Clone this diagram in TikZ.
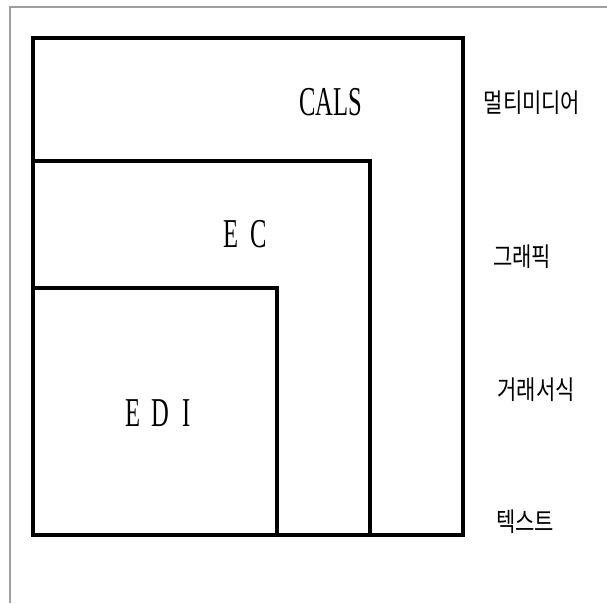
\documentclass[tikz,border=0pt]{standalone}
\usepackage{fontspec}
\setmainfont{Liberation Serif}
\newfontfamily\krfont{Noto Sans CJK KR}
\begin{document}
\begin{tikzpicture}[x=1pt,y=-1pt,
  boxline/.style={line width=3.2pt, line join=miter},
  frameline/.style={draw=gray!75, line width=1.3pt},
  latinlabel/.style={inner sep=0pt, font=\fontsize{41}{44}\selectfont},
  korlabel/.style={inner sep=0pt, font=\krfont\fontsize{21}{24}\selectfont}]
\useasboundingbox (0,0) rectangle (607,603);
% outer frame (only top and left visible)
\draw[frameline] (10,603) -- (10,7) -- (607,7);
% nested rectangles
\draw[boxline] (33,38) rectangle (463,535);
\draw[boxline] (33,161) rectangle (370,535);
\draw[boxline] (33,288) rectangle (277,535);
% labels inside
\node[latinlabel] (cals) at (331,102) {\scalebox{0.6}[1]{CALS}};
\node[latinlabel] (ec) at (245,234) {\scalebox{0.6}[1]{E\hspace{0.5em}C}};
\node[latinlabel] (edi) at (158,413) {\scalebox{0.6}[1]{E\hspace{0.45em}D\hspace{0.55em}I}};
% labels at right
\node[korlabel] (mm) at (532,103) {\scalebox{1}[1.25]{멀티미디어}};
\node[korlabel] (gr) at (522,257) {\scalebox{1}[1.25]{그래픽}};
\node[korlabel] (gs) at (536,390) {\scalebox{1}[1.25]{거래서식}};
\node[korlabel] (tx) at (525,522) {\scalebox{1}[1.25]{텍스트}};
\end{tikzpicture}
\end{document}
